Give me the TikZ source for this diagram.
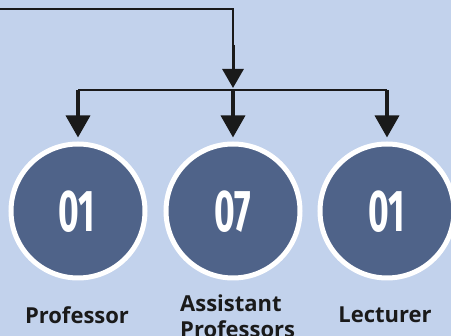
\documentclass[tikz,border=0pt]{standalone}
\usepackage{fontspec}
\setmainfont{Open Sans}
\newfontfamily\numfont{Fira Sans}
\usetikzlibrary{arrows.meta}
\definecolor{bgblue}{RGB}{194,210,236}
\definecolor{discblue}{RGB}{79,99,137}
\definecolor{inkblack}{RGB}{26,26,26}
\tikzset{
  thinline/.style={draw=inkblack, line width=1.6pt},
  bigarrow/.style={draw=inkblack, fill=inkblack, line width=3.5pt, -{Triangle[width=24pt,length=22pt]}},
  toparrow/.style={draw=inkblack, fill=inkblack, line width=3pt, -{Triangle[width=21pt,length=19pt]}},
  disc/.style={circle, fill=discblue, draw=white, line width=5pt, minimum size=134pt, inner sep=0pt},
  num/.style={text=white, font=\numfont\bfseries\fontsize{59}{59}\selectfont},
  lbl/.style={text=inkblack, font=\bfseries\fontsize{22}{26}\selectfont, inner sep=0pt}
}
\begin{document}
\begin{tikzpicture}[x=1pt,y=-1pt]
\fill[bgblue] (0,0) rectangle (451,336);
\useasboundingbox (0,0) rectangle (451,336);
\begin{scope}
\clip (0,0) rectangle (451,336);
\node[disc] (c1) at (78,211) {};
\node[disc] (c2) at (233,211) {};
\node[disc] (c3) at (387,211) {};
\node[num] (n1) at (77,212) {\scalebox{0.6}[1]{01}};
\node[num] (n2) at (233,212) {\scalebox{0.6}[1]{07}};
\node[num] (n3) at (387,212) {\scalebox{0.6}[1]{01}};
\coordinate (start) at (0,9);
\coordinate (bend) at (233,9);
\coordinate (mid) at (233,45);
\coordinate (jl) at (78,90);
\coordinate (jc) at (233,90);
\coordinate (jr) at (387,90);
\draw[thinline] (start) -- (bend) -- (mid);
\draw[toparrow] (mid) -- (233,88);
\draw[thinline] (jl) -- (jr);
\draw[bigarrow] (jl) -- ([yshift=4pt]c1.north);
\draw[bigarrow] (jc) -- ([yshift=4pt]c2.north);
\draw[bigarrow] (jr) -- ([yshift=4pt]c3.north);
\node[lbl, anchor=base] (l1) at (77,324) {Professor};
\node[lbl, anchor=base west, align=left] (l2) at (180,338) {Assistant\\Professors};
\node[lbl, anchor=base] (l3) at (385,323) {Lecturer};
\end{scope}
\end{tikzpicture}
\end{document}
